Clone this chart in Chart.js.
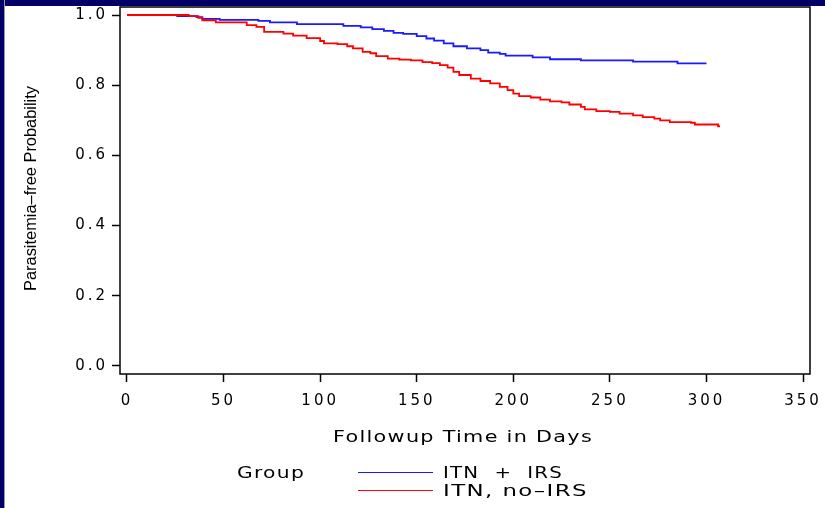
<!DOCTYPE html>
<html>
<head>
<meta charset="utf-8">
<script src="https://cdn.jsdelivr.net/npm/chart.js"></script>
<style>
  html, body { margin: 0; padding: 0; background: #fff; }
  #wrap { position: relative; width: 825px; height: 508px; overflow: hidden; }
  #topbar { position: absolute; left: 0; top: 0; width: 825px; height: 6px; background: #000066; }
  #leftbar { position: absolute; left: 0; top: 0; width: 4px; height: 508px; background: #000066; border-right: 1px solid #999; }
  canvas { position: absolute; left: 0; top: 0; }
</style>
</head>
<body>
<div id="wrap">
  <canvas id="km" width="825" height="508"></canvas>
  <div id="topbar"></div>
  <div id="leftbar"></div>
</div>
<script>
// Kaplan-Meier estimates (day, survival after that day)
var groupNames = ['ITN  +  IRS', 'ITN, no\u2013IRS'];

var irsDays = [0, 26, 36, 39, 48, 68, 74, 88, 112, 121, 127, 133, 138, 143, 150, 155, 159, 164, 169, 176, 183, 187, 193, 196, 210, 219, 235, 262, 285, 300];
var irsSurv = [1.0, 0.997, 0.994, 0.989, 0.986, 0.983, 0.979, 0.974, 0.969, 0.965, 0.960, 0.955, 0.949, 0.946, 0.940, 0.933, 0.927, 0.919, 0.911, 0.905, 0.900, 0.893, 0.889, 0.884, 0.879, 0.874, 0.871, 0.867, 0.862, 0.862];

var noIrsDays = [0, 32, 37, 39, 46, 62, 67, 71, 81, 86, 93, 100, 102, 109, 114, 117, 122, 126, 129, 135, 141, 147, 153, 158, 162, 166, 169, 172, 178, 183, 188, 193, 197, 200, 203, 209, 214, 219, 225, 229, 235, 237, 243, 250, 255, 262, 267, 273, 276, 281, 292, 294, 306, 307];
var noIrsSurv = [1.0, 0.997, 0.992, 0.985, 0.979, 0.971, 0.966, 0.952, 0.947, 0.941, 0.934, 0.926, 0.919, 0.917, 0.911, 0.905, 0.895, 0.891, 0.883, 0.876, 0.873, 0.871, 0.866, 0.863, 0.857, 0.850, 0.838, 0.829, 0.819, 0.812, 0.805, 0.795, 0.786, 0.776, 0.769, 0.765, 0.759, 0.754, 0.751, 0.745, 0.738, 0.731, 0.726, 0.724, 0.719, 0.714, 0.709, 0.705, 0.700, 0.695, 0.693, 0.688, 0.683, 0.683];

var xTicks = [0, 50, 100, 150, 200, 250, 300, 350];
var yTicks = [0.0, 0.2, 0.4, 0.6, 0.8, 1.0];

var xTitle = 'Followup Time in Days';
var yTitle = 'Parasitemia\u2013free Probability';
var legendTitle = 'Group';

function pts(days, surv) {
  return days.map(function(d, i) { return { x: d, y: surv[i] }; });
}

var sasFont = { family: '"DejaVu Sans", sans-serif', size: 15 };
var spacing = '3px';

function noPad(s) {
  s.paddingLeft = 0; s.paddingRight = 0; s.paddingTop = 0; s.paddingBottom = 0;
}

// draw text stretched to a given width (the SAS font is wide)
function wideText(ctx, txt, x, y, width, align) {
  ctx.save();
  var w = ctx.measureText(txt).width;
  ctx.translate(x, y);
  ctx.scale(width / w, 1);
  ctx.textAlign = align;
  ctx.fillText(txt, 0, 0);
  ctx.restore();
}

var sasText = {
  id: 'sasText',
  beforeLayout: function(chart) { chart.ctx.letterSpacing = spacing; },
  beforeDraw: function(chart) { chart.ctx.letterSpacing = spacing; },
  afterDraw: function(chart) {
    var ctx = chart.ctx, a = chart.chartArea;
    ctx.save();
    // plot frame
    ctx.strokeStyle = '#000';
    ctx.lineWidth = 1.5;
    ctx.strokeRect(a.left, a.top, a.right - a.left, a.bottom - a.top);

    // y title, narrow and without spacing
    ctx.letterSpacing = '0px';
    ctx.fillStyle = '#000';
    ctx.font = '16px "Liberation Sans", sans-serif';
    ctx.translate(32, (a.top + a.bottom) / 2 - 2);
    ctx.rotate(-Math.PI / 2);
    ctx.textBaseline = 'middle';
    wideText(ctx, yTitle, 0, 0, 205, 'center');
    ctx.restore();

    // x title and legend
    ctx.save();
    ctx.letterSpacing = '1px';
    ctx.fillStyle = '#000';
    ctx.font = '16px "DejaVu Sans", sans-serif';
    ctx.textBaseline = 'middle';
    wideText(ctx, xTitle, 463, 438, 260, 'center');
    wideText(ctx, legendTitle, 237, 474, 68, 'left');
    var cols = ['#1a1aff', '#ff0000'];
    var rows = [472, 490];
    var widths = [120, 145];
    for (var i = 0; i < groupNames.length; i++) {
      ctx.strokeStyle = cols[i];
      ctx.lineWidth = 1;
      ctx.beginPath();
      ctx.moveTo(358, rows[i] + 0.5);
      ctx.lineTo(433, rows[i] + 0.5);
      ctx.stroke();
      wideText(ctx, groupNames[i], 443, rows[i] + 1.5, widths[i], 'left');
    }
    ctx.restore();
  }
};

new Chart(document.getElementById('km').getContext('2d'), {
  type: 'line',
  data: {
    datasets: [{
      label: groupNames[0],
      data: pts(irsDays, irsSurv),
      borderColor: '#1a1aff',
      borderWidth: 1.8,
      stepped: true,
      pointRadius: 0,
      fill: false,
      order: 1
    }, {
      label: groupNames[1],
      data: pts(noIrsDays, noIrsSurv),
      borderColor: '#ff0000',
      borderWidth: 1.8,
      stepped: true,
      pointRadius: 0,
      fill: false,
      order: 0
    }]
  },
  options: {
    responsive: false,
    animation: false,
    layout: { padding: { left: 0, top: 7, right: 15, bottom: 54 } },
    plugins: { legend: { display: false }, tooltip: { enabled: false } },
    scales: {
      x: {
        type: 'linear',
        min: -3.62,
        max: 353.6,
        afterBuildTicks: function(s) { s.ticks = xTicks.map(function(v) { return { value: v }; }); },
        afterFit: function(s) { s.height = 80; noPad(s); },
        ticks: { font: sasFont, color: '#000', padding: 10, maxRotation: 0, autoSkip: false },
        grid: { drawOnChartArea: false, drawTicks: true, tickLength: 8, tickColor: '#000', tickWidth: 1.5 },
        border: { display: false }
      },
      y: {
        min: -0.0228,
        max: 1.0228,
        afterBuildTicks: function(s) { s.ticks = yTicks.map(function(v) { return { value: v }; }); },
        afterFit: function(s) { s.width = 120; noPad(s); },
        ticks: { font: sasFont, color: '#000', padding: 4, callback: function(v) { return v.toFixed(1); } },
        grid: { drawOnChartArea: false, drawTicks: true, tickLength: 8, tickColor: '#000', tickWidth: 1.5 },
        border: { display: false }
      }
    }
  },
  plugins: [sasText]
});
</script>
</body>
</html>
